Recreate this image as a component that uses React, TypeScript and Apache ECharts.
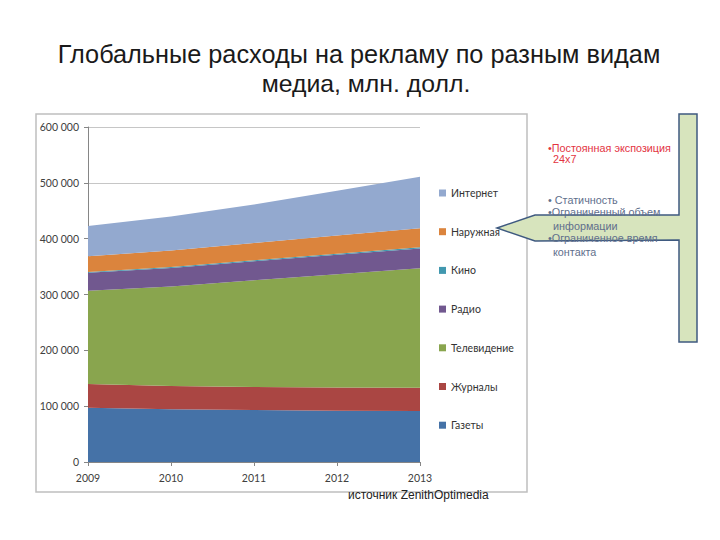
import React, { useEffect, useRef } from "react";
import * as echarts from "echarts";

const years = ["2009", "2010", "2011", "2012", "2013"];
const seriesNames = ["Газеты", "Журналы", "Телевидение", "Радио", "Кино", "Наружная", "Интернет"];
const gazety = [97000, 94500, 93000, 92000, 91500];
const zhurnaly = [42500, 41800, 41500, 41300, 41300];
const tv = [167000, 178000, 191000, 203000, 214200];
const radio = [32500, 33200, 34000, 35000, 35500];
const kino = [1500, 1600, 1700, 1800, 2000];
const naruzhnaya = [28000, 29500, 31000, 32500, 34000];
const internet = [54000, 61000, 69000, 80000, 92600];
const yTicks = [0, 100000, 200000, 300000, 400000, 500000, 600000];
const colors = ["#4572A7", "#AA4643", "#89A54E", "#71588F", "#4198AF", "#DB843D", "#93A9CF"];

const seriesValues = [gazety, zhurnaly, tv, radio, kino, naruzhnaya, internet];

const fmt = (v: number) => {
  const s = String(Math.round(v));
  return s.replace(/\B(?=(\d{3})+(?!\d))/g, " ");
};

export default function App() {
  const ref = useRef<HTMLDivElement>(null);
  useEffect(() => {
    if (!ref.current) return;
    const chart = echarts.init(ref.current, null, { renderer: "svg" });
    const font = "Lato, 'Open Sans', sans-serif";
    const option: any = {
      animation: false,
      backgroundColor: "#ffffff",
      color: colors,
      grid: { left: 88, top: 127, width: 332, height: 335, containLabel: false },
      legend: {
        orient: "vertical",
        left: 434,
        top: 182,
        itemWidth: 7,
        itemHeight: 7,
        itemGap: 26.7,
        icon: "rect",
        data: [...seriesNames].reverse(),
        textStyle: { fontFamily: font, fontSize: 10.5, color: "#333333", lineHeight: 12 },
        selectedMode: false,
      },
      xAxis: {
        type: "category",
        data: years,
        boundaryGap: false,
        axisLine: { lineStyle: { color: "#868686", width: 1 } },
        axisTick: { show: true, length: 4, lineStyle: { color: "#868686" } },
        axisLabel: { fontFamily: font, fontSize: 10.5, color: "#404040", margin: 10 },
        splitLine: { show: false },
      },
      yAxis: {
        type: "value",
        min: yTicks[0],
        max: yTicks[yTicks.length - 1],
        interval: 100000,
        axisLine: { show: true, lineStyle: { color: "#868686", width: 1 } },
        axisTick: { show: true, length: 4, lineStyle: { color: "#868686" } },
        axisLabel: { fontFamily: font, fontSize: 10.5, color: "#404040", margin: 9, formatter: (v: number) => fmt(v) },
        splitLine: { show: true, lineStyle: { color: "#C6C6C6", width: 1 } },
      },
      series: seriesNames.map((name, i) => ({
        name,
        type: "line",
        stack: "total",
        data: seriesValues[i],
        symbol: "none",
        lineStyle: { width: 0 },
        areaStyle: { color: colors[i], opacity: 1 },
        itemStyle: { color: colors[i] },
        z: 2,
      })),
      graphic: [
        {
          type: "rect",
          z: -1,
          shape: { x: 36, y: 114, width: 491, height: 378 },
          style: { fill: "none", stroke: "#BFBFBF", lineWidth: 1.5 },
        },
        {
          type: "text",
          x: 359,
          y: 54,
          style: {
            text: "Глобальные расходы на рекламу по разным видам",
            fontFamily: "'Liberation Sans', Arial, sans-serif",
            fontSize: 25.3,
            fill: "#1a1a1a",
            textAlign: "center",
            textVerticalAlign: "middle",
          },
        },
        {
          type: "text",
          x: 366,
          y: 83,
          style: {
            text: "медиа, млн. долл.",
            fontFamily: "'Liberation Sans', Arial, sans-serif",
            fontSize: 24.8,
            fill: "#1a1a1a",
            textAlign: "center",
            textVerticalAlign: "middle",
          },
        },
        {
          type: "text",
          x: 348,
          y: 495,
          style: {
            text: "источник ZenithOptimedia",
            fontFamily: "'Liberation Sans', Arial, sans-serif",
            fontSize: 12,
            fill: "#222222",
            textAlign: "left",
            textVerticalAlign: "middle",
          },
        },
        {
          type: "polygon",
          shape: {
            points: [
              [497, 228],
              [535, 215],
              [679, 215],
              [679, 114],
              [697, 114],
              [697, 342],
              [679, 342],
              [679, 240],
              [535, 241],
            ],
          },
          style: { fill: "#D7E4BD", stroke: "#3F5A80", lineWidth: 1.5 },
        },
        ...[
          { t: "•Постоянная экспозиция", x: 548, y: 148, c: "#E3343F" },
          { t: "24x7", x: 553, y: 159, c: "#E3343F" },
          { t: "• Статичность", x: 548, y: 200, c: "#5F6F8C" },
          { t: "•Ограниченный объем", x: 548, y: 212, c: "#5F6F8C" },
          { t: "информации", x: 553, y: 226, c: "#5F6F8C" },
          { t: "•Ограниченное время", x: 548, y: 238, c: "#5F6F8C" },
          { t: "контакта", x: 553, y: 252, c: "#5F6F8C" },
        ].map((d) => ({
          type: "text",
          x: d.x,
          y: d.y,
          z: 10,
          style: {
            text: d.t,
            fontFamily: "'Liberation Sans', Arial, sans-serif",
            fontSize: 10.8,
            fill: d.c,
            textAlign: "left",
            textVerticalAlign: "middle",
          },
        })),
      ],
    };
    chart.setOption(option);
    return () => chart.dispose();
  }, []);
  return (
    <div
      ref={ref}
      style={{ position: "fixed", left: 0, top: 0, width: 720, height: 540 }}
    />
  );
}
